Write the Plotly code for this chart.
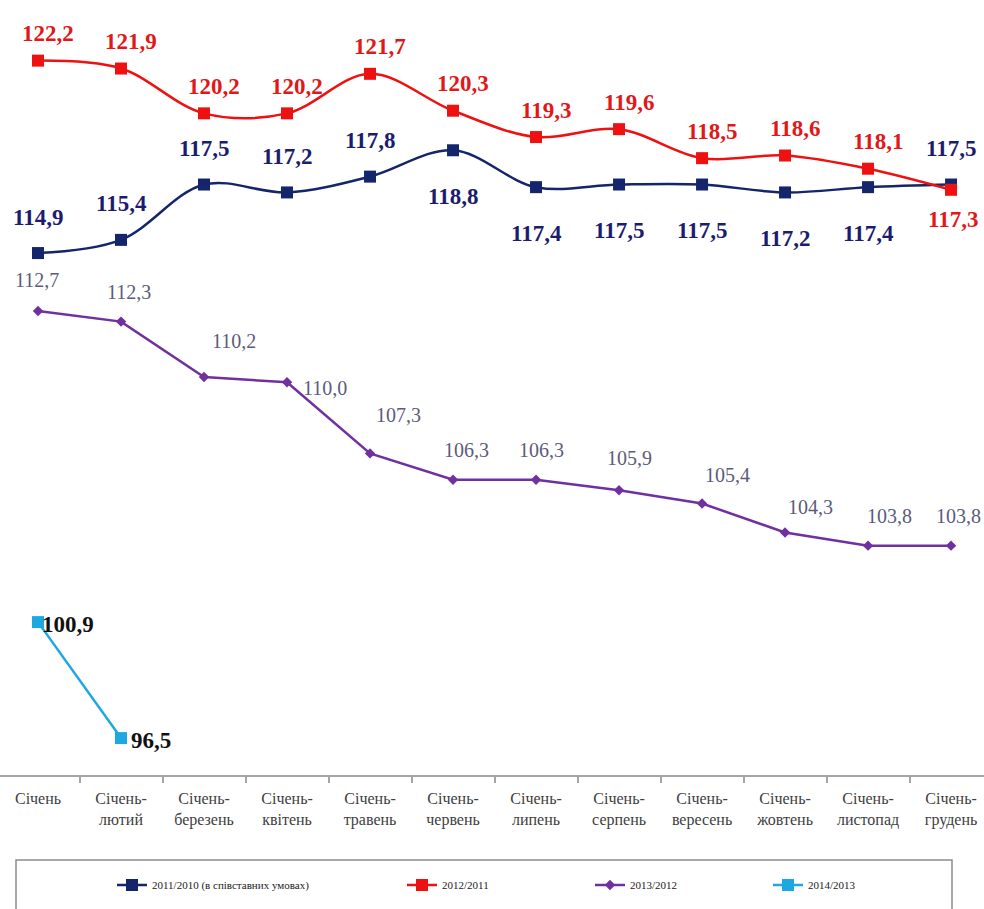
import plotly.graph_objects as go

months = [
    "Січень", "Січень-<br>лютий", "Січень-<br>березень", "Січень-<br>квітень",
    "Січень-<br>травень", "Січень-<br>червень", "Січень-<br>липень", "Січень-<br>серпень",
    "Січень-<br>вересень", "Січень-<br>жовтень", "Січень-<br>листопад", "Січень-<br>грудень",
]
idx_2011 = [114.9, 115.4, 117.5, 117.2, 117.8, 118.8, 117.4, 117.5, 117.5, 117.2, 117.4, 117.5]
idx_2012 = [122.2, 121.9, 120.2, 120.2, 121.7, 120.3, 119.3, 119.6, 118.5, 118.6, 118.1, 117.3]
idx_2013 = [112.7, 112.3, 110.2, 110.0, 107.3, 106.3, 106.3, 105.9, 105.4, 104.3, 103.8, 103.8]
idx_2014 = [100.9, 96.5]

names = ["2011/2010 (в співставних умовах)", "2012/2011", "2013/2012", "2014/2013"]

SERIF = "Liberation Serif, Times New Roman, serif"


def fmt(v):
    return f"{v:.1f}".replace(".", ",")


fig = go.Figure()

# name, values, line color, marker, size, shape, label color, bold, legend id
series = [
    (names[0], idx_2011, "#14256b", "square", 12, "spline", "#1c1c6e", True, "legend"),
    (names[1], idx_2012, "#ee1111", "square", 12, "spline", "#e21818", True, "legend2"),
    (names[2], idx_2013, "#7030a0", "diamond", 8, "linear", "#5c5c78", False, "legend3"),
    (names[3], idx_2014, "#1ea8e2", "square", 12, "linear", "#111111", True, "legend4"),
]

for name, vals, color, sym, size, shape, lcolor, bold, leg in series:
    fig.add_trace(go.Scatter(
        x=months[:len(vals)], y=vals, name=name, legend=leg,
        mode="lines+markers",
        line=dict(color=color, width=2.5, shape=shape, smoothing=1),
        marker=dict(symbol=sym, size=size, color=color),
    ))

# purple labels sit at uneven places in the original, so nudge them one by one
purple_dx = [-1, 8, 30, 38, 28, 13, 5, 10, 25, 25, 21, 7]
purple_dy = [31, 30, 36, -6, 38, 30, 30, 32, 28, 25, 30, 30]


def label_offset(k, i):
    if k == 0:
        return (0, 36) if (i <= 4 or i == 11) else (0, -46)
    if k == 1:
        return (10, 27) if i < 11 else (2, -30)
    if k == 2:
        return (purple_dx[i], purple_dy[i])
    return (30, -2)


for k, (name, vals, color, sym, size, shape, lcolor, bold, leg) in enumerate(series):
    for i, v in enumerate(vals):
        dx, dy = label_offset(k, i)
        fig.add_annotation(
            x=months[i], y=v, text=fmt(v), showarrow=False,
            xshift=dx, yshift=dy,
            font=dict(family=SERIF, size=23 if bold else 20, color=lcolor,
                      weight="bold" if bold else "normal"),
        )

# legend frame
fig.add_shape(type="rect", xref="paper", yref="paper",
              x0=16 / 984, x1=952 / 984, y0=-(860 - 775) / 775, y1=-(930 - 775) / 775,
              line=dict(color="#8c8c8c", width=1.5), fillcolor="rgba(0,0,0,0)")

leg_x = [112, 402, 590, 768]
leg_common = dict(orientation="h", yanchor="middle", y=-(885 - 775) / 775, xanchor="left",
                  font=dict(family=SERIF, size=11, color="#222222"),
                  bgcolor="rgba(0,0,0,0)", itemwidth=30)
fig.update_layout(
    legend=dict(x=leg_x[0] / 984, **leg_common),
    legend2=dict(x=leg_x[1] / 984, **leg_common),
    legend3=dict(x=leg_x[2] / 984, **leg_common),
    legend4=dict(x=leg_x[3] / 984, **leg_common),
)

fig.update_xaxes(
    type="category", range=[-0.458, 11.397],
    showline=True, linecolor="#a6a6a6", linewidth=2,
    ticks="outside", tickson="boundaries", ticklen=6, tickcolor="#a6a6a6", tickwidth=1.5,
    tickfont=dict(family=SERIF, size=16, color="#404040"),
    ticklabelstandoff=8,
    showgrid=False, zeroline=False,
)
fig.update_yaxes(range=[95.1, 124.5], visible=False, showgrid=False, zeroline=False)

fig.update_layout(
    width=984, height=909,
    margin=dict(l=0, r=0, t=0, b=134),
    paper_bgcolor="white", plot_bgcolor="white",
    showlegend=True,
)

fig.write_html("out.html", config={"displayModeBar": False},
               post_script="document.body.style.margin='0px';")
